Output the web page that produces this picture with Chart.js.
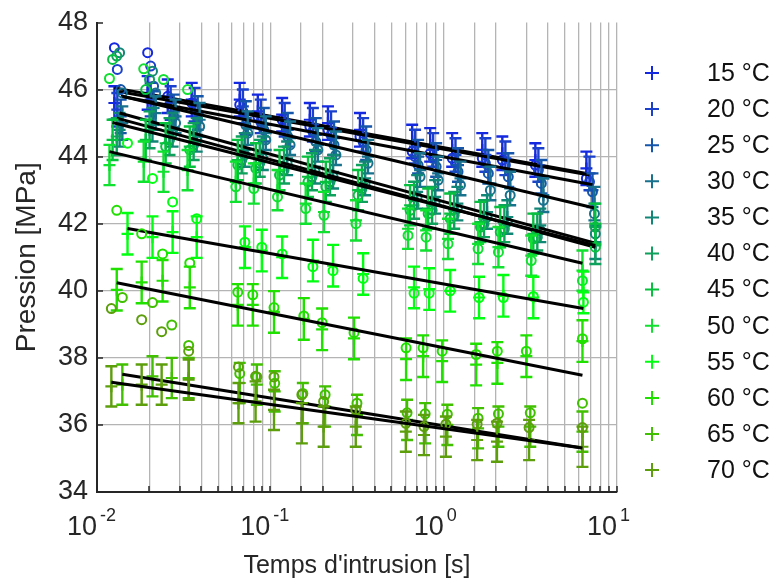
<!DOCTYPE html>
<html>
<head>
<meta charset="utf-8">
<script src="https://cdn.jsdelivr.net/npm/chart.js@4.4.1/dist/chart.umd.min.js"></script>
<style>
html, body { margin: 0; padding: 0; background: #fff; }
canvas { display: block; }
</style>
</head>
<body>
<canvas id="chart" width="777" height="582" style="width:777px;height:582px"></canvas>
<script>
// temperatures and colours
var tempLabels = ['15 °C', '20 °C', '25 °C', '30 °C', '35 °C', '40 °C', '45 °C', '50 °C', '55 °C', '60 °C', '65 °C', '70 °C'];
var tempColors = ['#1428e0', '#1a40cc', '#1656aa', '#18728e', '#128676', '#0ea05c', '#06c03e', '#10e030', '#00ff10', '#20e000', '#40c000', '#5c9e0c'];

// intrusion times [s]
var t15 = [0.0126, 0.0196, 0.0256, 0.0352, 0.0666, 0.0847, 0.117, 0.169, 0.215, 0.329, 0.658, 0.836, 1.12, 1.67, 2.18, 3.38, 6.66];
var t20 = [0.0131, 0.0204, 0.0266, 0.0366, 0.0694, 0.0881, 0.121, 0.176, 0.224, 0.343, 0.684, 0.870, 1.17, 1.74, 2.27, 3.52, 6.94];
var t25 = [0.0137, 0.0212, 0.0277, 0.0381, 0.0722, 0.0917, 0.126, 0.183, 0.233, 0.357, 0.712, 0.905, 1.21, 1.81, 2.36, 3.66, 7.22];
var t30 = [0.0140, 0.0218, 0.0284, 0.0391, 0.0741, 0.0941, 0.130, 0.188, 0.239, 0.366, 0.731, 0.929, 1.25, 1.86, 2.42, 3.76, 7.41];
var t35 = [0.0135, 0.0209, 0.0273, 0.0376, 0.0712, 0.0905, 0.125, 0.181, 0.230, 0.352, 0.703, 0.893, 1.20, 1.78, 2.33, 3.61, 7.50];
var t40 = [0.0130, 0.0201, 0.0262, 0.0361, 0.0684, 0.0869, 0.120, 0.174, 0.221, 0.338, 0.675, 0.858, 1.15, 1.71, 2.24, 3.47, 7.50];
var t45 = [0.0123, 0.0191, 0.0249, 0.0343, 0.0649, 0.0825, 0.113, 0.165, 0.209, 0.321, 0.640, 0.814, 1.09, 1.63, 2.12, 3.29, 7.50];
var t50 = [0.0118, 0.0186, 0.0242, 0.0333, 0.0632, 0.0803, 0.110, 0.160, 0.204, 0.312, 0.623, 0.792, 1.06, 1.58, 2.07, 3.20, 6.32];
var t55 = [0.0150, 0.0209, 0.0273, 0.0376, 0.0713, 0.0893, 0.117, 0.176, 0.230, 0.343, 0.675, 0.825, 1.09, 1.60, 2.21, 3.29, 6.40];
var t60 = [0.0130, 0.0181, 0.0239, 0.0343, 0.0649, 0.0792, 0.105, 0.156, 0.199, 0.304, 0.607, 0.761, 0.980, 1.54, 2.04, 3.00, 6.32];
var t65 = [0.0140, 0.0209, 0.0270, 0.0338, 0.0666, 0.0836, 0.106, 0.154, 0.207, 0.316, 0.615, 0.782, 1.05, 1.58, 2.07, 3.16, 6.32];
var t70 = [0.0121, 0.0181, 0.0236, 0.0338, 0.0655, 0.0822, 0.105, 0.152, 0.203, 0.311, 0.605, 0.770, 1.03, 1.56, 2.03, 3.11, 6.32];

// mean pressure [MPa] (error bar centres)
var m15 = [45.6, 45.9, 45.8, 45.7, 45.7, 45.35, 45.25, 45.1, 45.0, 44.8, 44.45, 44.35, 44.2, 44.2, 44.1, 43.9, 43.65];
var m20 = [45.4, 45.7, 45.6, 45.55, 45.5, 45.2, 45.1, 44.95, 44.85, 44.65, 44.3, 44.2, 44.05, 44.05, 43.95, 43.75, 43.5];
var m25 = [45.2, 45.45, 45.35, 45.3, 45.15, 44.95, 44.8, 44.65, 44.55, 44.4, 44.0, 43.9, 43.75, 43.7, 43.6, 43.4, 43.0];
var m30 = [45.0, 45.3, 45.2, 45.1, 44.85, 44.7, 44.55, 44.35, 44.25, 44.0, 43.6, 43.5, 43.35, 43.2, 43.05, 42.85, 42.6];
var m35 = [44.8, 44.95, 44.8, 44.65, 44.2, 44.1, 43.95, 43.7, 43.55, 43.35, 42.95, 42.8, 42.6, 42.35, 42.2, 41.95, 41.45];
var m40 = [44.6, 44.8, 44.6, 44.45, 44.05, 43.95, 43.75, 43.55, 43.4, 43.2, 42.7, 42.55, 42.4, 42.15, 42.0, 41.75, 41.35];
var m45 = [44.5, 44.5, 44.4, 44.3, 43.9, 43.8, 43.6, 43.4, 43.25, 43.0, 42.55, 42.45, 42.3, 42.05, 41.9, 41.7, 42.0];
var m50 = [43.75, 43.85, 43.55, 43.6, 43.25, 43.2, 43.0, 42.6, 42.35, 42.1, 41.85, 41.8, 41.55, 41.4, 41.3, 41.05, 40.6];
var m55 = [41.7, 41.6, 41.75, 41.6, 41.3, 41.2, 41.0, 40.9, 40.75, 40.5, 40.1, 40.05, 40.0, 39.8, 39.85, 39.8, 39.95];
var m60 = [40.03, 40.25, 40.3, 40.1, 39.58, 39.58, 39.37, 39.16, 38.85, 38.58, 37.96, 38.05, 37.9, 37.8, 37.85, 38.05, 38.5];
var m65 = [37.2, 37.45, 37.4, 37.4, 37.25, 37.2, 37.0, 36.65, 36.55, 36.3, 36.15, 36.05, 36.0, 35.9, 35.95, 35.95, 35.8];
var m70 = [37.15, 37.2, 37.2, 37.35, 36.65, 36.7, 36.45, 36.05, 35.95, 35.95, 35.8, 35.7, 35.65, 35.55, 35.5, 35.55, 35.35];

// half width of the error bars [MPa]
var errHalf = [0.5, 0.5, 0.5, 0.5, 0.5, 0.55, 0.6, 0.6, 0.62, 0.62, 0.6, 0.6];

// raw measurements (circles)
var r15 = [47.25, 47.1, 45.8, 45.6, 45.55, 45.2, 45.1, 44.9, 44.8, 44.6, 44.15, 44.1, 43.95, 43.95, 43.9, 43.75, 43.35];
var r20 = [46.6, 46.7, 45.6, 45.45, 45.35, 45.05, 44.95, 44.75, 44.65, 44.45, 44.0, 43.95, 43.8, 43.8, 43.75, 43.6, 43.25];
var r25 = [46.0, 46.1, 45.2, 45.1, 44.95, 44.8, 44.6, 44.45, 44.35, 44.2, 43.75, 43.7, 43.55, 43.5, 43.4, 43.2, 42.95];
var r30 = [45.9, 45.9, 45.0, 44.9, 44.7, 44.5, 44.35, 44.2, 44.05, 43.8, 43.4, 43.3, 43.15, 43.0, 42.85, 42.7, 42.3];
var r35 = [47.1, 46.55, 44.7, 44.5, 44.05, 43.95, 43.8, 43.55, 43.4, 43.2, 42.8, 42.65, 42.45, 42.2, 42.05, 41.8, 41.7];
var r40 = [47.0, 46.3, 44.5, 44.35, 43.9, 43.8, 43.6, 43.4, 43.25, 43.05, 42.55, 42.4, 42.25, 42.0, 41.85, 41.6, 41.9];
var r45 = [46.9, 46.0, 44.3, 44.2, 43.75, 43.65, 43.45, 43.25, 43.1, 42.85, 42.4, 42.3, 42.15, 41.9, 41.75, 41.55, 41.3];
var r50 = [46.33, 46.62, 46.3, 46.0, 43.1, 43.05, 42.8, 42.45, 42.25, 42.0, 41.65, 41.6, 41.4, 41.25, 41.15, 40.9, 40.3];
var r55 = [44.4, 43.35, 42.65, 42.15, 41.45, 41.3, 41.1, 40.72, 40.6, 40.37, 39.93, 39.93, 40.0, 39.8, 39.8, 39.83, 39.66];
var r60 = [42.4, 41.7, 41.1, 40.83, 39.96, 39.88, 39.5, 39.25, 39.05, 38.75, 38.3, 38.3, 38.2, 38.1, 38.2, 38.2, 38.57];
var r65 = [39.8, 39.65, 38.98, 38.37, 37.53, 37.43, 37.24, 36.94, 36.9, 36.65, 36.36, 36.33, 36.32, 36.2, 36.33, 36.36, 36.65];
var r70 = [39.47, 39.14, 38.78, 38.2, 37.73, 37.45, 37.43, 36.9, 36.7, 36.45, 36.05, 35.95, 36.02, 36.02, 36.05, 35.92, 35.92];

// fitted line, value at the first and at the last time
var fitStart = [46.05, 45.95, 45.8, 45.8, 45.3, 45.15, 45.02, 44.15, 41.86, 40.24, 37.51, 37.27];
var fitEnd = [43.5, 43.45, 43.16, 42.47, 41.42, 41.3, 41.35, 40.82, 39.47, 37.48, 35.31, 35.31];

// axis ticks
var yTicks = [34, 36, 38, 40, 42, 44, 46, 48];
var xTickExp = [-2, -1, 0, 1];

var allTimes = [t15, t20, t25, t30, t35, t40, t45, t50, t55, t60, t65, t70];
var allMeans = [m15, m20, m25, m30, m35, m40, m45, m50, m55, m60, m65, m70];
var allRaw = [r15, r20, r25, r30, r35, r40, r45, r50, r55, r60, r65, r70];

var FONT = "'Liberation Sans', Arial, sans-serif";
var TXT = '#262626';

function pts(times, vals) {
	return times.map(function(t, i) { return { x: t, y: vals[i] }; });
}

var datasets = [];
for (var i = 0; i < tempLabels.length; i++) {
	var times = allTimes[i];
	var base = (tempLabels.length - 1 - i) * 3;
	datasets.push({
		label: tempLabels[i] + ' fit',
		data: [{ x: times[0], y: fitStart[i] }, { x: times[times.length - 1], y: fitEnd[i] }],
		showLine: true,
		borderColor: '#000',
		borderWidth: 3,
		pointRadius: 0,
		order: base
	});
	datasets.push({
		label: tempLabels[i] + ' raw',
		data: pts(times, allRaw[i]),
		pointStyle: 'circle',
		pointRadius: 4.5,
		borderWidth: 2,
		borderColor: tempColors[i],
		backgroundColor: 'rgba(0,0,0,0)',
		order: base + 1
	});
	datasets.push({
		label: tempLabels[i],
		data: pts(times, allMeans[i]),
		errors: times.map(function() { return errHalf[i]; }),
		pointStyle: 'cross',
		pointRadius: 6,
		borderWidth: 2.2,
		borderColor: tempColors[i],
		backgroundColor: tempColors[i],
		order: base + 2
	});
}

// vertical error bars with caps, drawn just before each series' markers
var errorBars = {
	id: 'errorBars',
	beforeDatasetDraw: function(chart, args) {
		var ds = chart.data.datasets[args.index];
		if (!ds.errors) return;
		var ctx = chart.ctx, ys = chart.scales.y, a = chart.chartArea;
		ctx.save();
		ctx.beginPath();
		ctx.rect(a.left, a.top, a.right - a.left, a.bottom - a.top);
		ctx.clip();
		ctx.strokeStyle = ds.borderColor;
		ctx.lineWidth = 2.4;
		args.meta.data.forEach(function(el, k) {
			var v = ds.data[k].y, e = ds.errors[k];
			var top = ys.getPixelForValue(v + e), bot = ys.getPixelForValue(v - e);
			ctx.beginPath();
			ctx.moveTo(el.x, top); ctx.lineTo(el.x, bot);
			ctx.moveTo(el.x - 6, top); ctx.lineTo(el.x + 6, top);
			ctx.moveTo(el.x - 6, bot); ctx.lineTo(el.x + 6, bot);
			ctx.stroke();
		});
		ctx.restore();
	}
};

// inner ticks, power-of-ten labels, axis titles, legend
var decor = {
	id: 'decor',
	afterDraw: function(chart) {
		var ctx = chart.ctx, xs = chart.scales.x, ys = chart.scales.y, a = chart.chartArea;
		ctx.save();
		ctx.strokeStyle = TXT;
		ctx.lineWidth = 1.5;
		xs.ticks.forEach(function(t) {
			var px = Math.round(xs.getPixelForValue(t.value));
			ctx.beginPath(); ctx.moveTo(px, a.bottom); ctx.lineTo(px, a.bottom - 6); ctx.stroke();
		});
		ys.ticks.forEach(function(t) {
			var py = Math.round(ys.getPixelForValue(t.value));
			ctx.beginPath(); ctx.moveTo(a.left, py); ctx.lineTo(a.left + 6, py); ctx.stroke();
		});

		ctx.fillStyle = TXT;
		ctx.textBaseline = 'alphabetic';
		xTickExp.forEach(function(p) {
			var px = xs.getPixelForValue(Math.pow(10, p));
			ctx.font = '27px ' + FONT;
			ctx.textAlign = 'right';
			ctx.fillText('10', px, 535);
			ctx.font = '18px ' + FONT;
			ctx.textAlign = 'left';
			ctx.fillText(String(p), px + 3, 521);
		});

		ctx.textAlign = 'center';
		ctx.textBaseline = 'middle';
		ctx.font = '25px ' + FONT;
		ctx.fillText("Temps d'intrusion [s]", (a.left + a.right) / 2, 566);
		ctx.save();
		ctx.translate(27, (a.top + a.bottom) / 2);
		ctx.rotate(-Math.PI / 2);
		ctx.font = '28px ' + FONT;
		ctx.fillText('Pression [MPa]', 0, 0);
		ctx.restore();

		ctx.font = '25px ' + FONT;
		ctx.textAlign = 'left';
		for (var k = 0; k < tempLabels.length; k++) {
			var cy = 73 + k * 36.1;
			ctx.strokeStyle = tempColors[k];
			ctx.lineWidth = 2;
			ctx.beginPath();
			ctx.moveTo(645, cy); ctx.lineTo(659, cy);
			ctx.moveTo(652, cy - 7); ctx.lineTo(652, cy + 7);
			ctx.stroke();
			ctx.fillStyle = '#111';
			ctx.fillText(tempLabels[k], 707, cy + 1);
		}
		ctx.restore();
	}
};

var chart = new Chart(document.getElementById('chart'), {
	type: 'scatter',
	data: { datasets: datasets },
	options: {
		responsive: false,
		animation: false,
		devicePixelRatio: 1,
		layout: { padding: { left: 0, right: 160, top: 15, bottom: 0 } },
		plugins: { legend: { display: false }, tooltip: { enabled: false } },
		scales: {
			x: {
				type: 'logarithmic',
				min: 0.01,
				max: 10,
				ticks: { display: false },
				grid: { color: '#b4b4b4', lineWidth: 1.3, drawTicks: false },
				border: { display: true, color: TXT, width: 2 },
				afterFit: function(s) { s.height = 90; }
			},
			y: {
				min: 34,
				max: 48,
				afterBuildTicks: function(s) { s.ticks = yTicks.map(function(v) { return { value: v }; }); },
				ticks: { font: { family: FONT, size: 27, lineHeight: 1 }, color: TXT, padding: 9 },
				grid: {
					color: function(c) { return c.tick && c.tick.value === 48 ? 'rgba(0,0,0,0)' : '#b4b4b4'; },
					lineWidth: 1.3,
					drawTicks: false
				},
				border: { display: true, color: TXT, width: 2 },
				afterFit: function(s) { s.width = 97; }
			}
		}
	},
	plugins: [errorBars, decor]
});
</script>
</body>
</html>
